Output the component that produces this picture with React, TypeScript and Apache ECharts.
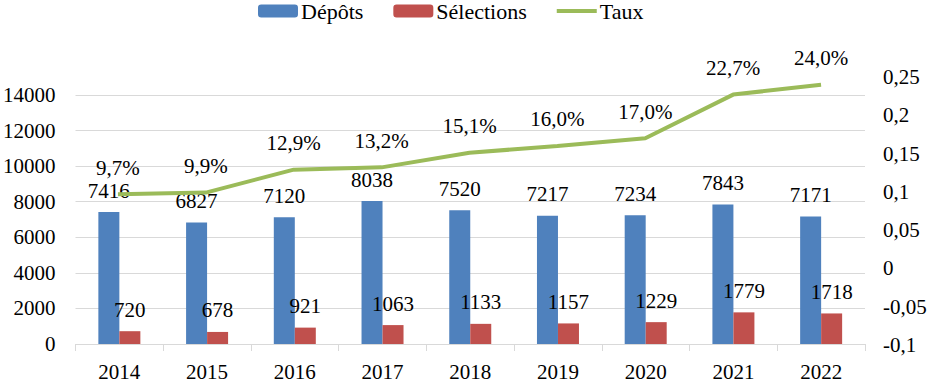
import React, { useEffect, useRef } from "react";
import * as echarts from "echarts";

const years = ["2014", "2015", "2016", "2017", "2018", "2019", "2020", "2021", "2022"];
const depots = [7416, 6827, 7120, 8038, 7520, 7217, 7234, 7843, 7171];
const selections = [720, 678, 921, 1063, 1133, 1157, 1229, 1779, 1718];
const taux = [0.097, 0.099, 0.129, 0.132, 0.151, 0.16, 0.17, 0.227, 0.24];

const FONT = "Liberation Serif";

export default function App() {
  const ref = useRef<HTMLDivElement>(null);
  useEffect(() => {
    document.body.style.margin = "0";
    if (!ref.current) return;
    const chart = echarts.init(ref.current, null, { renderer: "svg" });
    const txt = { fontFamily: FONT, fontSize: 21, color: "#000" };
    chart.setOption({
      animation: false,
      textStyle: { fontFamily: FONT },
      legend: {
        left: 258,
        top: 0,
        padding: 0,
        itemWidth: 40,
        itemHeight: 13,
        itemGap: 30,
        textStyle: { fontFamily: FONT, fontSize: 22, color: "#000", padding: [0, 0, 0, -2] },
        data: [
          { name: "Dépôts" },
          { name: "Sélections" },
          { name: "Taux", icon: "path://M0,0L40,0L40,4L0,4Z", itemStyle: { color: "#9BBB59" } },
        ],
      },
      grid: [
        { left: 74, right: 66, top: 95, bottom: 37 },
        { left: 74, right: 66, top: 77, bottom: 37 },
      ],
      xAxis: [
        {
          type: "category",
          gridIndex: 0,
          data: years,
          axisLine: { lineStyle: { color: "#D9D9D9", width: 1 } },
          axisTick: { show: true, length: 7, lineStyle: { color: "#D9D9D9" } },
          axisLabel: { ...txt, margin: 17 },
        },
        {
          type: "category",
          gridIndex: 1,
          data: years,
          show: false,
        },
      ],
      yAxis: [
        {
          type: "value",
          gridIndex: 0,
          min: 0,
          max: 14000,
          interval: 2000,
          axisLine: { show: false },
          axisTick: { show: false },
          splitLine: { lineStyle: { color: "#D9D9D9", width: 1 } },
          axisLabel: { ...txt, margin: 20, formatter: (v: number) => String(v) },
        },
        {
          type: "value",
          gridIndex: 1,
          position: "right",
          min: -0.1,
          max: 0.25,
          interval: 0.05,
          axisLine: { show: false },
          axisTick: { show: false },
          splitLine: { show: false },
          axisLabel: {
            ...txt,
            margin: 18,
            formatter: (v: number) => String(Math.round(v * 100) / 100).replace(".", ","),
          },
        },
      ],
      series: [
        {
          name: "Dépôts",
          type: "bar",
          xAxisIndex: 0,
          yAxisIndex: 0,
          data: depots,
          barWidth: 21,
          barGap: "0%",
          itemStyle: { color: "#4F81BD" },
          label: { show: true, position: "top", distance: 11, ...txt },
        },
        {
          name: "Sélections",
          type: "bar",
          xAxisIndex: 0,
          yAxisIndex: 0,
          data: selections,
          barWidth: 21,
          barGap: "0%",
          itemStyle: { color: "#C0504D" },
          label: { show: true, position: "top", distance: 11, ...txt },
        },
        {
          name: "Taux",
          type: "line",
          xAxisIndex: 1,
          yAxisIndex: 1,
          data: taux,
          symbol: "circle",
          symbolSize: 0,
          showSymbol: true,
          lineStyle: { color: "#9BBB59", width: 4 },
          itemStyle: { color: "#9BBB59" },
          labelLayout: { hideOverlap: false },
          label: {
            show: true,
            position: "top",
            distance: 16,
            ...txt,
            formatter: (p: any) => (p.value * 100).toFixed(1).replace(".", ",") + "%",
          },
        },
      ],
    });
    return () => chart.dispose();
  }, []);
  return <div ref={ref} style={{ width: 931, height: 382 }} />;
}
